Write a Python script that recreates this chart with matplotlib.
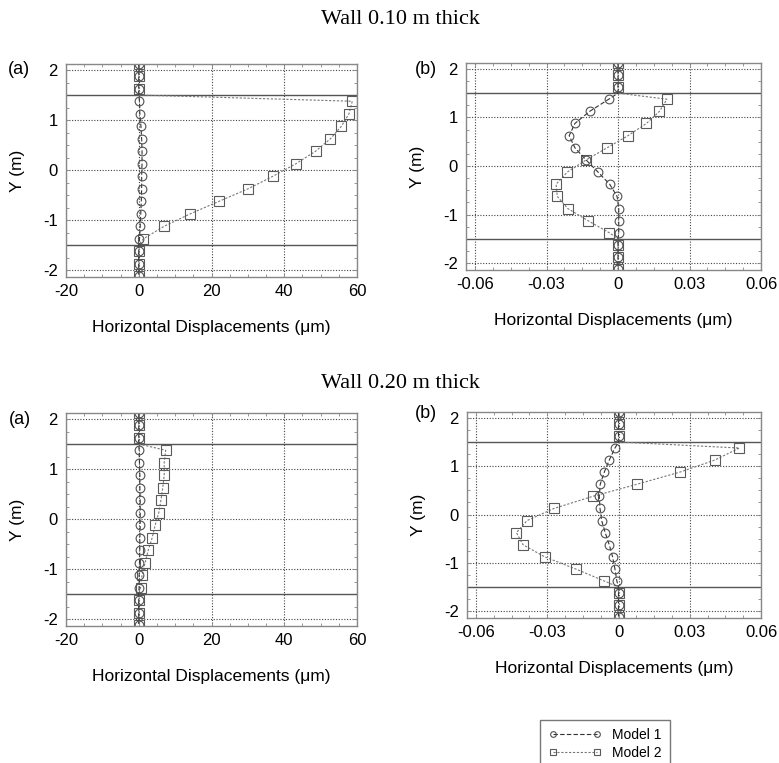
import matplotlib
matplotlib.use('Agg')
import matplotlib.pyplot as plt
from matplotlib.ticker import AutoMinorLocator

plt.rcParams['font.family'] = ['Liberation Sans', 'DejaVu Sans']
plt.rcParams['axes.unicode_minus'] = False

# node heights along the wall (m), top to bottom
y_soil_top = [2.125, 1.875, 1.625]
y_wall_top = 1.5
y_wall = [1.375, 1.125, 0.875, 0.625, 0.375, 0.125,
          -0.125, -0.375, -0.625, -0.875, -1.125, -1.375]
y_wall_bot = -1.5
y_soil_bot = [-1.625, -1.875, -2.125]

# horizontal displacements at the wall nodes (um)
w10_a_model1 = [0.2, 0.3, 0.6, 0.8, 0.9, 0.9, 0.8, 0.8, 0.7, 0.55, 0.4, 0.2]
w10_a_model2 = [58.7, 57.8, 55.7, 52.7, 48.6, 43.2, 36.9, 30.1, 22.1, 14.2, 7.0, 1.3]
w10_b_model1 = [-0.0039, -0.0119, -0.0181, -0.0205, -0.0181, -0.0134,
                -0.0084, -0.0035, -0.0004, 0.0003, 0.0003, 0.0003]
w10_b_model2 = [0.0205, 0.0174, 0.0119, 0.0042, -0.0046, -0.0134,
                -0.0213, -0.0260, -0.0255, -0.0211, -0.0126, -0.0036]
w20_a_model1 = [0.1, 0.2, 0.3, 0.3, 0.4, 0.4, 0.4, 0.3, 0.3, 0.2, 0.1, 0.1]
w20_a_model2 = [7.4, 7.0, 7.0, 6.6, 6.1, 5.5, 4.5, 3.7, 2.6, 1.75, 0.9, 0.5]
w20_b_model1 = [-0.0015, -0.0039, -0.0060, -0.0077, -0.0081, -0.0078,
                -0.0071, -0.0056, -0.0039, -0.0025, -0.0015, -0.0007]
w20_b_model2 = [0.0509, 0.0405, 0.0257, 0.0077, -0.0109, -0.0272,
                -0.0385, -0.0430, -0.0402, -0.0311, -0.0181, -0.0060]

# displacement of the soil nodes outside the wall and of the wall ends
soil_disp = 0.0

titles = ['Wall 0.10 m thick', 'Wall 0.20 m thick']
xticks_a = [-20, 0, 20, 40, 60]
xticks_b = [-0.06, -0.03, 0, 0.03, 0.06]
xticklabels_b = ['-0.06', '-0.03', '0', '0.03', '0.06']
yticks = [-2, -1, 0, 1, 2]

y_all = y_soil_top + [y_wall_top] + y_wall + [y_wall_bot] + y_soil_bot
n_top = len(y_soil_top)
marker_idx = [i for i in range(len(y_all)) if i not in (n_top, n_top + len(y_wall) + 1)]


def full(wall_vals):
    return [soil_disp] * (n_top + 1) + list(wall_vals) + [soil_disp] * (len(y_soil_bot) + 1)


W, H = 779, 763
fig = plt.figure(figsize=(W / 100, H / 100), dpi=100)


def make_axes(left, top, right, bottom):
    return fig.add_axes([left / W, 1 - bottom / H, (right - left) / W, (bottom - top) / H])


panels = [
    (make_axes(66, 64, 357, 277), w10_a_model1, w10_a_model2, 'a'),
    (make_axes(466, 63, 761, 270), w10_b_model1, w10_b_model2, 'b'),
    (make_axes(66, 413, 357, 626), w20_a_model1, w20_a_model2, 'a'),
    (make_axes(467, 412, 761, 618), w20_b_model1, w20_b_model2, 'b'),
]

for ax, m1, m2, kind in panels:
    ax.grid(True, which='major', linestyle=(0, (1, 1.5)), color='#444444', linewidth=0.8)
    ax.axhline(y_wall_top, color='#555555', linewidth=1.0)
    ax.axhline(y_wall_bot, color='#555555', linewidth=1.0)
    l2, = ax.plot(full(m2), y_all, color='#777777', linestyle=(0, (2, 1.5)), linewidth=0.8,
                  marker='s', markersize=7.2, markerfacecolor='none', markeredgecolor='#5a5a5a',
                  markeredgewidth=0.8, markevery=marker_idx, label='Model 2')
    l1, = ax.plot(full(m1), y_all, color='#333333', linestyle=(0, (4, 2)), linewidth=0.8,
                  marker='o', markersize=6.3, markerfacecolor='none', markeredgecolor='#505050',
                  markeredgewidth=0.8, markevery=marker_idx, label='Model 1')
    ax.set_ylim(-2.14, 2.12)
    ax.set_yticks(yticks)
    if kind == 'a':
        ax.set_xlim(-20, 60)
        ax.set_xticks(xticks_a)
    else:
        ax.set_xlim(-0.0638, 0.06)
        ax.set_xticks(xticks_b)
        ax.set_xticklabels(xticklabels_b)
    ax.xaxis.set_minor_locator(AutoMinorLocator(4))
    ax.yaxis.set_minor_locator(AutoMinorLocator(4))
    ax.tick_params(which='both', direction='in', top=True, right=True,
                   color='#888888', width=0.6, labelsize=12)
    ax.tick_params(which='major', length=3)
    ax.tick_params(which='minor', length=2)
    ax.tick_params(axis='x', pad=5)
    ax.tick_params(axis='y', pad=6)
    for s in ax.spines.values():
        s.set_color('#888888')
        s.set_linewidth(1.0)
    ax.set_xlabel('Horizontal Displacements (\u03bcm)', fontsize=12.5, labelpad=15)
    ax.set_ylabel('Y (m)', fontsize=12.5, labelpad=13)

# panel letters
fig.text(8 / W, 1 - 70 / H, '(a)', fontsize=13, va='center', ha='left')
fig.text(415 / W, 1 - 69 / H, '(b)', fontsize=13, va='center', ha='left')
fig.text(9 / W, 1 - 420 / H, '(a)', fontsize=13, va='center', ha='left')
fig.text(415 / W, 1 - 413 / H, '(b)', fontsize=13, va='center', ha='left')

# wall titles
fig.text(400 / W, 1 - 19 / H, titles[0], fontsize=16, family='Liberation Serif',
         ha='center', va='center')
fig.text(400 / W, 1 - 384 / H, titles[1], fontsize=16, family='Liberation Serif',
         ha='center', va='center')

handles = [l1, l2]
fig.legend(handles, [h.get_label() for h in handles], loc='upper left',
           bbox_to_anchor=(540 / W, 1 - 720 / H), bbox_transform=fig.transFigure,
           frameon=True, fancybox=False, edgecolor='#777777', framealpha=1,
           fontsize=10, numpoints=2, handlelength=3.8, markerscale=0.65,
           labelspacing=0.25, borderaxespad=0, borderpad=0.6)

plt.savefig('out.png', dpi=100)
